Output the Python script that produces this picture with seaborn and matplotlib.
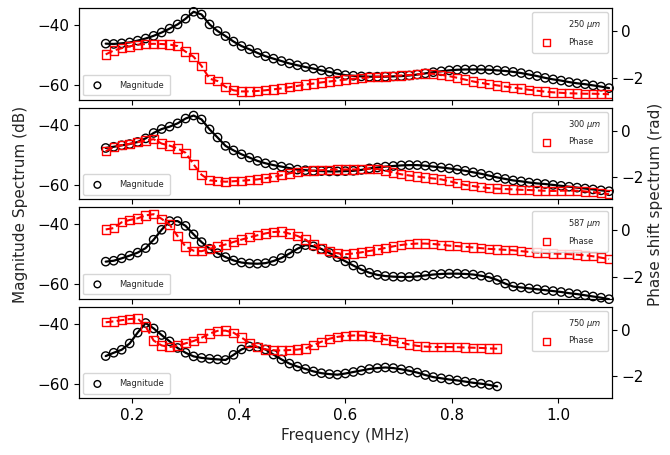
import numpy as np
import pandas as pd
import matplotlib
matplotlib.use("Agg")
import matplotlib.pyplot as plt
import seaborn as sns

# ---------------- data ----------------
freq = [0.150, 0.165, 0.180, 0.195, 0.210, 0.225, 0.240, 0.255, 0.270, 0.285,
        0.300, 0.315, 0.330, 0.345, 0.360, 0.375, 0.390, 0.405, 0.420, 0.435,
        0.450, 0.465, 0.480, 0.495, 0.510, 0.525, 0.540, 0.555, 0.570, 0.585,
        0.600, 0.615, 0.630, 0.645, 0.660, 0.675, 0.690, 0.705, 0.720, 0.735,
        0.750, 0.765, 0.780, 0.795, 0.810, 0.825, 0.840, 0.855, 0.870, 0.885,
        0.900, 0.915, 0.930, 0.945, 0.960, 0.975, 0.990, 1.005, 1.020, 1.035,
        1.050, 1.065, 1.080, 1.095]

labels = ["250 $\\mu m$", "300 $\\mu m$", "587 $\\mu m$", "750 $\\mu m$"]

mag_250 = [-46.2, -46.3, -46.1, -45.8, -45.2, -44.5, -43.6, -42.5, -41.2, -39.8,
           -37.9, -35.6, -36.5, -39.8, -42.0, -43.7, -45.5, -47.0, -48.1, -49.3,
           -50.4, -51.2, -52.0, -52.8, -53.4, -54.0, -54.5, -55.1, -55.6, -56.2,
           -56.7, -56.9, -57.1, -57.2, -57.2, -57.2, -57.1, -57.0, -56.8, -56.5,
           -56.1, -55.7, -55.4, -55.1, -54.9, -54.8, -54.8, -54.8, -54.9, -55.1,
           -55.3, -55.6, -56.0, -56.5, -57.0, -57.6, -58.1, -58.5, -59.0, -59.4,
           -59.7, -60.1, -60.5, -61.0]
phase_250 = [-1.00, -0.83, -0.73, -0.65, -0.58, -0.55, -0.54, -0.55, -0.57, -0.64,
             -0.88, -1.10, -1.50, -2.05, -2.15, -2.40, -2.55, -2.60, -2.60, -2.58,
             -2.55, -2.51, -2.47, -2.42, -2.36, -2.30, -2.26, -2.21, -2.17, -2.13,
             -2.09, -2.05, -2.02, -1.99, -1.97, -1.95, -1.93, -1.91, -1.89, -1.86,
             -1.83, -1.84, -1.88, -1.94, -2.01, -2.09, -2.17, -2.23, -2.29, -2.34,
             -2.39, -2.44, -2.48, -2.53, -2.57, -2.61, -2.64, -2.66, -2.68, -2.69,
             -2.70, -2.70, -2.71, -2.72]

mag_300 = [-47.8, -47.4, -46.9, -46.5, -45.8, -44.6, -42.8, -41.5, -40.7, -39.6,
           -38.0, -37.0, -38.3, -41.6, -44.3, -47.1, -48.6, -49.9, -51.0, -52.1,
           -52.9, -53.5, -54.0, -54.5, -55.0, -55.2, -55.4, -55.5, -55.6, -55.6,
           -55.5, -55.4, -55.1, -54.6, -54.3, -54.0, -53.8, -53.6, -53.5, -53.5,
           -53.7, -54.0, -54.3, -54.6, -55.0, -55.4, -55.9, -56.4, -57.0, -57.6,
           -58.1, -58.6, -58.9, -59.3, -59.6, -59.8, -60.1, -60.4, -60.7, -61.0,
           -61.3, -61.6, -61.9, -62.2]
phase_300 = [-0.88, -0.70, -0.62, -0.56, -0.49, -0.42, -0.36, -0.55, -0.64, -0.76,
             -0.95, -1.45, -1.90, -2.14, -2.17, -2.20, -2.18, -2.16, -2.13, -2.10,
             -2.05, -1.99, -1.92, -1.84, -1.77, -1.74, -1.72, -1.70, -1.68, -1.67,
             -1.67, -1.67, -1.66, -1.64, -1.65, -1.72, -1.80, -1.88, -1.93, -1.98,
             -2.02, -2.06, -2.10, -2.18, -2.26, -2.34, -2.39, -2.44, -2.48, -2.50,
             -2.52, -2.53, -2.55, -2.56, -2.58, -2.59, -2.60, -2.59, -2.58, -2.59,
             -2.62, -2.65, -2.69, -2.74]

mag_587 = [-52.5, -52.2, -51.4, -50.5, -49.5, -48.0, -45.2, -41.9, -39.0, -39.0,
           -40.6, -43.4, -46.0, -48.2, -49.7, -51.0, -52.1, -52.8, -53.1, -53.2,
           -53.0, -52.3, -51.3, -49.8, -48.2, -47.0, -47.4, -48.3, -49.6, -51.0,
           -52.4, -53.8, -55.1, -56.2, -56.9, -57.3, -57.5, -57.6, -57.6, -57.4,
           -57.1, -56.8, -56.6, -56.5, -56.5, -56.6, -56.8, -57.2, -57.7, -58.6,
           -59.8, -60.8, -61.1, -61.4, -61.7, -62.0, -62.3, -62.6, -63.0, -63.3,
           -63.7, -64.1, -64.5, -65.0]
phase_587 = [0.04, 0.10, 0.35, 0.45, 0.52, 0.65, 0.70, 0.50, 0.25, -0.25,
             -0.70, -0.88, -0.90, -0.80, -0.70, -0.61, -0.50, -0.40, -0.30, -0.21,
             -0.13, -0.07, -0.05, -0.14, -0.24, -0.40, -0.61, -0.78, -0.90, -0.99,
             -1.03, -1.00, -0.95, -0.89, -0.83, -0.76, -0.69, -0.63, -0.59, -0.57,
             -0.57, -0.59, -0.62, -0.66, -0.68, -0.71, -0.74, -0.77, -0.80, -0.82,
             -0.84, -0.86, -0.90, -0.93, -0.96, -0.98, -1.00, -1.01, -1.03, -1.05,
             -1.08, -1.12, -1.18, -1.24]

mag_750 = [-50.8, -49.7, -48.7, -46.6, -43.0, -39.8, -41.6, -43.8, -45.9, -48.1,
           -49.7, -50.9, -51.4, -51.7, -51.9, -52.1, -50.4, -48.6, -47.6, -47.8,
           -48.6, -50.3, -51.9, -53.3, -54.3, -55.1, -55.9, -56.5, -56.8, -57.0,
           -56.6, -56.1, -55.6, -55.1, -54.8, -54.6, -54.8, -55.2, -55.7, -56.3,
           -57.1, -57.8, -58.2, -58.6, -58.9, -59.3, -59.7, -60.0, -60.4, -60.9]
phase_750 = [0.33, 0.37, 0.42, 0.47, 0.50, 0.15, -0.46, -0.67, -0.74, -0.68,
             -0.58, -0.48, -0.34, -0.16, -0.04, -0.03, -0.12, -0.33, -0.56, -0.74,
             -0.84, -0.88, -0.89, -0.87, -0.85, -0.80, -0.66, -0.51, -0.38, -0.30,
             -0.26, -0.24, -0.24, -0.27, -0.32, -0.41, -0.48, -0.55, -0.63, -0.69,
             -0.72, -0.74, -0.74, -0.74, -0.75, -0.76, -0.77, -0.78, -0.80, -0.81]

mags = [mag_250, mag_300, mag_587, mag_750]
phases = [phase_250, phase_300, phase_587, phase_750]

# ---------------- style ----------------
sns.set_style("ticks")
plt.rcParams["font.family"] = ["DejaVu Sans"]
plt.rcParams["font.size"] = 11
plt.rcParams["xtick.labelsize"] = 11
plt.rcParams["ytick.labelsize"] = 11
plt.rcParams["axes.edgecolor"] = "black"
plt.rcParams["xtick.color"] = "black"
plt.rcParams["ytick.color"] = "black"

fig, axes = plt.subplots(4, 1, figsize=(6.7, 4.55), dpi=100, sharex=True)
fig.subplots_adjust(left=0.118, right=0.913, top=0.982, bottom=0.125, hspace=0.09)

for ax, mag, ph, lab in zip(axes, mags, phases, labels):
    n = len(mag)
    df = pd.DataFrame({"freq": freq[:n], "mag": mag, "phase": ph})

    sns.lineplot(data=df, x="freq", y="mag", ax=ax, color="black", lw=1.6, sort=False)
    sns.scatterplot(data=df, x="freq", y="mag", ax=ax, marker="o", s=36,
                    facecolor="none", edgecolor="black", linewidth=1.0,
                    label="Magnitude", clip_on=False)
    ax.set_ylim(-64.8, -34.4)
    ax.set_yticks([-60, -40])
    ax.set_xlim(0.1, 1.1)
    ax.set_xlabel("")
    ax.set_ylabel("")
    ax.legend(loc="lower left", fontsize=6, frameon=True, handletextpad=1.6,
              borderpad=0.7, framealpha=0.8, markerscale=0.8)

    ax2 = ax.twinx()
    ax2.plot([], [], " ", label=lab)
    sns.lineplot(data=df, x="freq", y="phase", ax=ax2, color="red", lw=1.5,
                 linestyle="--", sort=False)
    sns.scatterplot(data=df, x="freq", y="phase", ax=ax2, marker="s", s=36,
                    facecolor="none", edgecolor="red", linewidth=1.0,
                    label="Phase")
    ax2.set_ylim(-2.95, 1.0)
    ax2.set_yticks([-2, 0])
    ax2.set_ylabel("")
    ax2.legend(loc="upper right", fontsize=6, frameon=True, handletextpad=1.6,
               borderpad=0.7, labelspacing=0.8, framealpha=0.8, markerscale=0.8)

axes[-1].set_xticks([0.2, 0.4, 0.6, 0.8, 1.0])
axes[-1].set_xticklabels(["0.2", "0.4", "0.6", "0.8", "1.0"])
axes[-1].set_xlabel("Frequency (MHz)", fontsize=11)

fig.text(0.03, 0.55, "Magnitude Spectrum (dB)", rotation=90, va="center",
         ha="center", fontsize=11)
fig.text(0.978, 0.55, "Phase shift spectrum (rad)", rotation=90, va="center",
         ha="center", fontsize=11)

fig.savefig("out.png", dpi=100)
